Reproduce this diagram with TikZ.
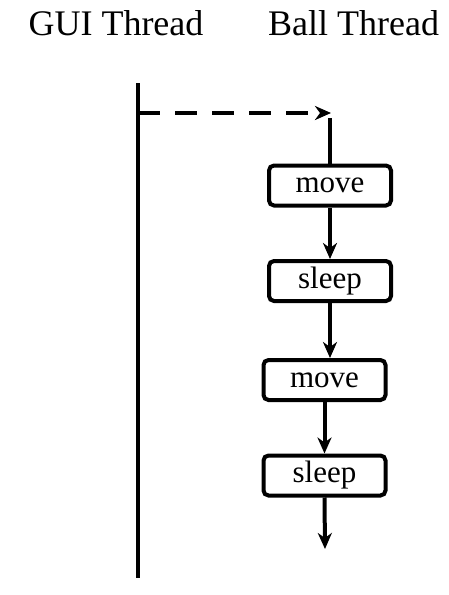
\documentclass[tikz,border=0pt]{standalone}
\usepackage{fontspec}
\setmainfont{Liberation Serif}
\usetikzlibrary{arrows.meta}
\begin{document}
\begin{tikzpicture}[x=1pt,y=-1pt,
  thread/.style={line width=4pt},
  stepbox/.style={draw,line width=4pt,rounded corners=5pt,minimum width=122pt,minimum height=40pt,inner sep=0pt,font=\fontsize{31}{31}\selectfont},
  flow/.style={line width=4pt,-{Stealth[length=16pt,width=14pt,inset=5pt]}},
  title/.style={anchor=base,font=\fontsize{36}{36}\selectfont}]
\useasboundingbox (0,0) rectangle (448,595);
\node[title] (gui) at (116,35) {GUI Thread};
\node[title] (ball) at (353.5,35) {Ball Thread};
\coordinate (guitop) at (138,83);
\coordinate (guibot) at (138,578);
\coordinate (fork) at (138,113);
\coordinate (spawn) at (331,113);
\coordinate (balltop) at (330,118);
\node[stepbox] (move1) at (330,185.5) {move};
\node[stepbox] (sleep1) at (330,281) {sleep};
\node[stepbox] (move2) at (324.5,380) {move};
\node[stepbox] (sleep2) at (324.5,475.5) {sleep};
\coordinate (end) at (325,549);
\draw[thread] (guitop) -- (guibot);
\draw[thread,dash pattern=on 22pt off 15pt,-{Stealth[length=16pt,width=14pt,inset=5pt]}] (fork) -- (spawn);
\draw[thread] (balltop) -- (move1.north);
\draw[flow] (move1.south) -- (sleep1.north);
\draw[flow] (sleep1.south) -- (sleep1.south |- move2.north);
\draw[flow] (move2.south) -- (sleep2.north);
\draw[flow] (sleep2.south) -- (end);
\end{tikzpicture}
\end{document}
